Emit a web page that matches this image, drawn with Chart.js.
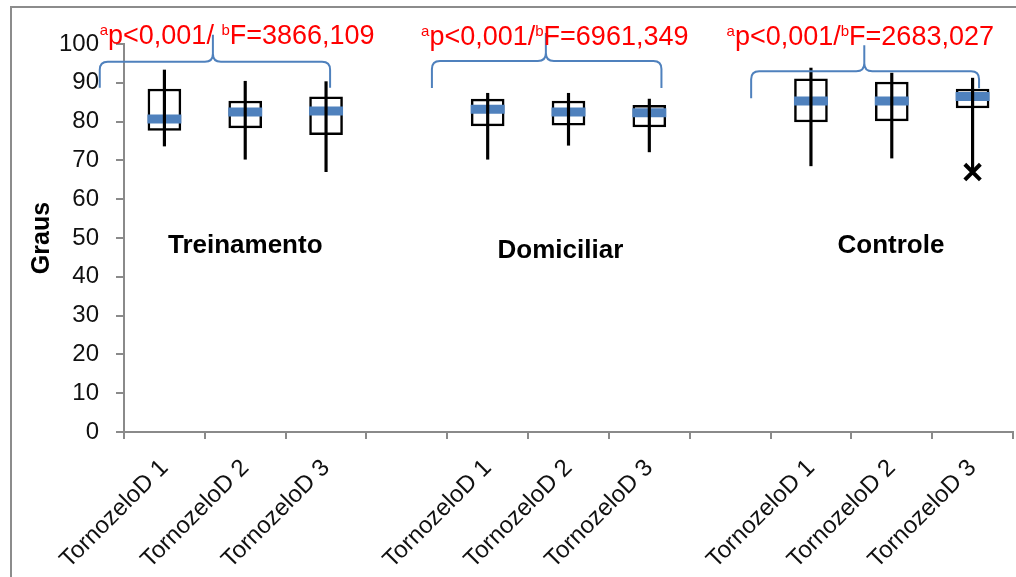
<!DOCTYPE html>
<html>
<head>
<meta charset="utf-8">
<title>TornozeloD — Graus</title>
<script src="https://cdn.jsdelivr.net/npm/chart.js@4.4.1/dist/chart.umd.min.js"></script>
<style>
  html, body { margin: 0; padding: 0; background: #fff; }
  #wrap { position: relative; width: 1016px; height: 577px; overflow: hidden; }
  #frame {
    position: absolute; left: 10px; top: 6px; width: 2000px; height: 2000px;
    border-left: 2px solid #8c8c8c; border-top: 2px solid #8c8c8c;
  }
  #chart { position: absolute; left: 0; top: 0; }
</style>
</head>
<body>
<div id="wrap">
  <div id="frame"></div>
  <canvas id="chart" width="1016" height="577"></canvas>
</div>
<script>
const FONT = "'Liberation Sans', Arial, Helvetica, sans-serif";

// 3 groups x 3 measurements, empty slot between groups
const categories = [
  'TornozeloD 1', 'TornozeloD 2', 'TornozeloD 3', '',
  'TornozeloD 1', 'TornozeloD 2', 'TornozeloD 3', '',
  'TornozeloD 1', 'TornozeloD 2', 'TornozeloD 3'
];
const minVals    = [73.7, 70.3, 67.1, null, 70.3, 73.9, 72.2, null, 68.6, 70.6, 67.0];
const q1Vals     = [77.7, 78.4, 76.6, null, 78.9, 79.1, 78.6, null, 79.9, 80.2, 83.5];
const medianVals = [80.7, 82.5, 82.7, null, 83.2, 82.5, 82.3, null, 85.3, 85.3, 86.5];
const q3Vals     = [88.4, 85.3, 86.4, null, 85.8, 85.3, 84.2, null, 91.0, 90.2, 88.4];
const maxVals    = [93.3, 90.4, 90.3, null, 87.3, 87.3, 85.8, null, 93.8, 92.5, 91.2];
const outliers   = [null, null, null, null, null, null, null, null, null, null, 67.0];

const yTicks = [0, 10, 20, 30, 40, 50, 60, 70, 80, 90, 100];

const groupNames = ['Treinamento', 'Domiciliar', 'Controle'];
const pValues    = ['0,001', '0,001', '0,001'];
const fValues    = ['3866,109', '6961,349', '2683,027'];

const BLUE = '#4f81bd';
const AXIS = '#8a8a8a';

const boxes = q1Vals.map((v, i) => v == null ? null : [v, q3Vals[i]]);
const whiskers = minVals.map((v, i) => v == null ? null : [v, maxVals[i]]);

// braces, F statistics and group names over each trio of boxes
// (x in category index units, y in axis units)
const notes = {
  groups: [
    { from: -0.80, mid: 0.60, to: 2.05, level: 95.4, dropL: 26, dropR: 26, rise: 27,
      textX: 0.90, textY: 100.0, sep: '/ ', nameX: 1.00, nameY: 46.1 },
    { from: 3.31, mid: 4.72, to: 6.15, level: 95.6, dropL: 27, dropR: 27, rise: 28,
      textX: 4.83, textY: 99.7, sep: '/', nameX: 4.90, nameY: 44.8 },
    { from: 7.26, mid: 8.66, to: 10.08, level: 93.0, dropL: 27, dropR: 17, rise: 26,
      textX: 8.61, textY: 99.7, sep: '/', nameX: 8.99, nameY: 46.1 }
  ]
};

function drawBrace(ctx, x0, xm, x1, yh, dropL, dropR, rise) {
  const r = 8;
  ctx.beginPath();
  ctx.moveTo(x0, yh + dropL);
  ctx.lineTo(x0, yh + r);
  ctx.quadraticCurveTo(x0, yh, x0 + r, yh);
  ctx.lineTo(xm - r, yh);
  ctx.quadraticCurveTo(xm, yh, xm, yh - r);
  ctx.lineTo(xm, yh - rise);
  ctx.moveTo(xm, yh - r);
  ctx.quadraticCurveTo(xm, yh, xm + r, yh);
  ctx.lineTo(x1 - r, yh);
  ctx.quadraticCurveTo(x1, yh, x1, yh + r);
  ctx.lineTo(x1, yh + dropR);
  ctx.stroke();
}

function drawStat(ctx, cx, baseline, parts) {
  const main = `27px ${FONT}`, sup = `15px ${FONT}`;
  let total = 0;
  parts.forEach(p => { ctx.font = p.sup ? sup : main; total += ctx.measureText(p.t).width; });
  let x = cx - total / 2;
  ctx.textAlign = 'left';
  ctx.textBaseline = 'alphabetic';
  parts.forEach(p => {
    ctx.font = p.sup ? sup : main;
    ctx.fillText(p.t, x, p.sup ? baseline - 9 : baseline);
    x += ctx.measureText(p.t).width;
  });
}

const groupNotes = {
  id: 'groupNotes',
  afterDraw(chart, args, opts) {
    const { ctx } = chart;
    const { x, y } = chart.scales;
    ctx.save();
    opts.groups.forEach((g, i) => {
      ctx.strokeStyle = BLUE;
      ctx.lineWidth = 2;
      drawBrace(ctx,
        x.getPixelForValue(g.from), x.getPixelForValue(g.mid), x.getPixelForValue(g.to),
        y.getPixelForValue(g.level), g.dropL, g.dropR, g.rise);

      ctx.fillStyle = '#ff0000';
      drawStat(ctx, x.getPixelForValue(g.textX), y.getPixelForValue(g.textY), [
        { t: 'a', sup: true },
        { t: 'p<' + pValues[i] + g.sep },
        { t: 'b', sup: true },
        { t: 'F=' + fValues[i] }
      ]);

      ctx.fillStyle = '#000';
      ctx.font = `bold 26px ${FONT}`;
      ctx.textAlign = 'center';
      ctx.textBaseline = 'alphabetic';
      ctx.fillText(groupNames[i], x.getPixelForValue(g.nameX), y.getPixelForValue(g.nameY));
    });
    ctx.restore();
  }
};

new Chart(document.getElementById('chart'), {
  type: 'bar',
  data: {
    labels: categories,
    datasets: [
      {
        label: 'min-max',
        data: whiskers,
        backgroundColor: '#000',
        borderWidth: 0,
        barThickness: 2.5,
        grouped: false,
        order: 0
      },
      {
        type: 'line',
        label: 'mediana',
        data: medianVals,
        showLine: false,
        pointStyle: 'line',
        pointRadius: 17,
        pointBorderWidth: 9,
        pointBorderColor: BLUE,
        pointBackgroundColor: BLUE,
        order: 1
      },
      {
        type: 'line',
        label: 'outlier',
        data: outliers,
        showLine: false,
        pointStyle: 'crossRot',
        pointRadius: 11,
        pointBorderWidth: 4,
        pointBorderColor: '#000',
        order: 0
      },
      {
        label: 'Q1-Q3',
        data: boxes,
        backgroundColor: '#fff',
        borderColor: '#000',
        borderWidth: 2.5,
        borderSkipped: false,
        barThickness: 33,
        grouped: false,
        order: 2
      }
    ]
  },
  options: {
    responsive: false,
    animation: false,
    events: [],
    layout: { autoPadding: false, padding: { top: 44, right: 3, bottom: 0, left: 0 } },
    plugins: {
      legend: { display: false },
      tooltip: { enabled: false },
      groupNotes: notes
    },
    scales: {
      x: {
        offset: true,
        grid: {
          offset: true, drawOnChartArea: false, drawTicks: true,
          tickLength: 7, color: AXIS, tickColor: AXIS, lineWidth: 2, tickWidth: 2
        },
        border: { color: AXIS, width: 2 },
        ticks: {
          autoSkip: false, minRotation: 45, maxRotation: 45, padding: 15,
          color: '#111', font: { family: FONT, size: 24 }
        },
        afterFit(scale) {
          scale.height = 145;
          scale.paddingLeft = 0;
          scale.paddingRight = 0;
        }
      },
      y: {
        min: 0,
        max: 100,
        afterBuildTicks(scale) { scale.ticks = yTicks.map(v => ({ value: v })); },
        grid: {
          drawOnChartArea: false, drawTicks: true,
          tickLength: 8, color: AXIS, tickColor: AXIS, lineWidth: 2, tickWidth: 2
        },
        border: { color: AXIS, width: 2 },
        ticks: { padding: 17, color: '#111', font: { family: FONT, size: 24 } },
        title: {
          display: true, text: 'Graus', color: '#000',
          font: { family: FONT, size: 25, weight: 'bold' },
          padding: { top: 27, bottom: 0 }
        },
        afterFit(scale) {
          scale.width = 124;
          scale.paddingTop = 0;
          scale.paddingBottom = 0;
        }
      }
    }
  },
  plugins: [groupNotes]
});
</script>
</body>
</html>
